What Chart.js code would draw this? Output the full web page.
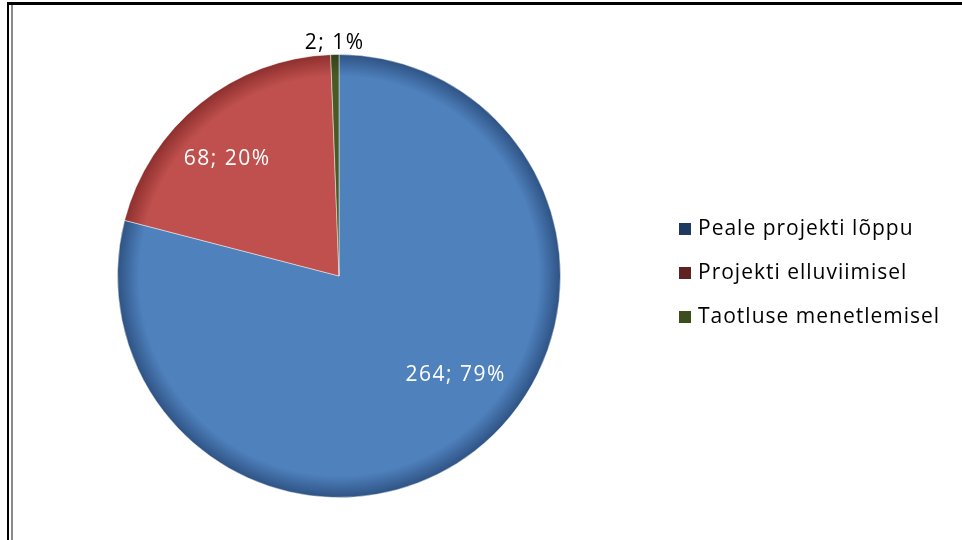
<!DOCTYPE html>
<html>
<head>
<meta charset="utf-8">
<script src="https://cdn.jsdelivr.net/npm/chart.js@4.4.0/dist/chart.umd.min.js"></script>
<style>
  body { margin: 0; background: #fff; }
  #wrap { position: relative; width: 962px; height: 540px; overflow: hidden; }
  #topLine { position: absolute; left: 7px; top: 2px; width: 955px; height: 3px; background: #000; }
  #leftLine { position: absolute; left: 7px; top: 2px; width: 2px; height: 538px; background: #000; }
  #leftLine2 { position: absolute; left: 11px; top: 5px; width: 2px; height: 535px; background: #8a8a8a; }
</style>
</head>
<body>
<div id="wrap">
  <canvas id="myChart" width="962" height="540"></canvas>
  <div id="topLine"></div>
  <div id="leftLine"></div>
  <div id="leftLine2"></div>
</div>
<script>
const labels = ['Peale projekti lõppu', 'Projekti elluviimisel', 'Taotluse menetlemisel'];
const counts = [264, 68, 2];
const percents = [79, 20, 1];

const sliceColors = ['#4F81BD', '#C0504D', '#4A5A24'];
const edgeColors = ['#2E5283', '#8C2F2D', '#34401A'];
const legendColors = ['#1F3A60', '#5E2321', '#3E4D1E'];
const labelColors = ['#ffffff', '#ffffff', '#000000'];
// label placement tweaks: angle shift (deg) and radius factor
const labelShift = [-12, -5, 0];
const labelRadius = [0.69, 0.73, 1.05];

function shadedFill(context) {
    const i = context.dataIndex;
    const chart = context.chart;
    const area = chart.chartArea;
    if (!area) return sliceColors[i];
    const cx = (area.left + area.right) / 2;
    const cy = (area.top + area.bottom) / 2;
    const r = Math.min(area.right - area.left, area.bottom - area.top) / 2;
    const g = chart.ctx.createRadialGradient(cx, cy, 0, cx, cy, r);
    g.addColorStop(0, sliceColors[i]);
    g.addColorStop(0.9, sliceColors[i]);
    g.addColorStop(1, edgeColors[i]);
    return g;
}

const sliceLabels = {
    id: 'sliceLabels',
    afterDatasetsDraw(chart) {
        const ctx = chart.ctx;
        const meta = chart.getDatasetMeta(0);
        ctx.save();
        ctx.font = '21px "Open Sans"';
        ctx.letterSpacing = '1.5px';
        ctx.textAlign = 'center';
        ctx.textBaseline = 'middle';
        meta.data.forEach((arc, i) => {
            const p = arc.getProps(['x', 'y', 'startAngle', 'endAngle', 'outerRadius'], true);
            const mid = (p.startAngle + p.endAngle) / 2 + labelShift[i] * Math.PI / 180;
            const r = p.outerRadius * labelRadius[i];
            ctx.fillStyle = labelColors[i];
            ctx.fillText(counts[i] + '; ' + percents[i] + '%', p.x + Math.cos(mid) * r, p.y + Math.sin(mid) * r);
        });
        ctx.restore();
    }
};

const sideLegend = {
    id: 'sideLegend',
    afterDraw(chart) {
        const ctx = chart.ctx;
        ctx.save();
        ctx.font = '21px "Open Sans"';
        ctx.letterSpacing = '1px';
        ctx.textBaseline = 'middle';
        labels.forEach((lab, i) => {
            const y = 229 + i * 44;
            ctx.fillStyle = legendColors[i];
            ctx.fillRect(679, y - 6, 12, 12);
            ctx.fillStyle = '#000';
            ctx.fillText(lab, 698, y);
        });
        ctx.restore();
    }
};

const config = {
    type: 'pie',
    data: {
        labels: labels,
        datasets: [{
            data: counts,
            backgroundColor: shadedFill,
            borderColor: 'rgba(255,255,255,0.45)',
            borderWidth: 1
        }]
    },
    options: {
        responsive: false,
        animation: false,
        layout: { padding: { left: 117, right: 401, top: 54, bottom: 42 } },
        plugins: {
            legend: { display: false },
            tooltip: { enabled: false }
        }
    },
    plugins: [sliceLabels, sideLegend]
};

const myChart = new Chart(document.getElementById('myChart'), config);
</script>
</body>
</html>
